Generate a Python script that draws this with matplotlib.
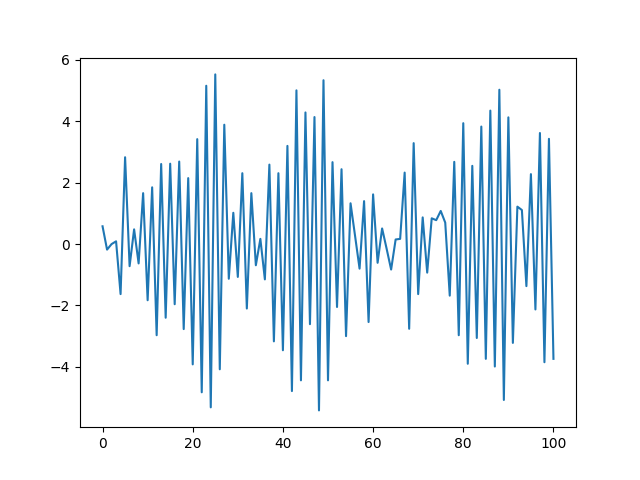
import numpy as np
import matplotlib
matplotlib.use('Agg')
import matplotlib.pyplot as plt

x = np.arange(0, 101)
y = [0.58, -0.18, 0.0, 0.09, -1.63, 2.83, -0.72, 0.48, -0.63, 1.66,
     -1.83, 1.85, -2.97, 2.61, -2.40, 2.62, -1.96, 2.69, -2.77, 2.15,
     -3.92, 3.42, -4.83, 5.16, -5.32, 5.53, -4.08, 3.89, -1.13, 1.02,
     -1.07, 2.31, -2.1, 1.66, -0.69, 0.17, -1.15, 2.59, -3.17, 2.31,
     -3.46, 3.2, -4.79, 5.01, -4.44, 4.29, -2.61, 4.14, -5.42, 5.34,
     -4.44, 2.67, -2.05, 2.44, -3.0, 1.33, 0.27, -0.8, 1.4, -2.54,
     1.62, -0.61, 0.51, -0.15, -0.83, 0.15, 0.17, 2.33, -2.76, 3.29,
     -1.63, 0.87, -0.93, 0.84, 0.78, 1.08, 0.7, -1.68, 2.68, -2.97,
     3.94, -3.9, 2.55, -3.06, 3.83, -3.74, 4.35, -3.99, 5.03, -5.08,
     4.13, -3.22, 1.22, 1.11, -1.37, 2.28, -2.13, 3.62, -3.85, 3.43,
     -3.74]

plt.figure(figsize=(6.4, 4.8), dpi=100)
plt.plot(x, y)
plt.savefig('out.png')
